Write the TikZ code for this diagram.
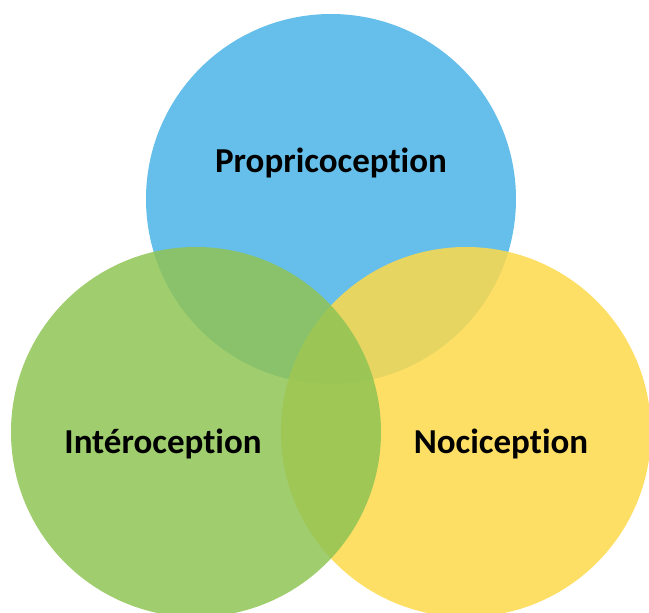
\documentclass[tikz,border=0pt]{standalone}
\usepackage{fontspec}
\setmainfont[Ligatures=NoCommon]{Carlito}
\definecolor{propblue}{RGB}{74,180,230}
\definecolor{intgreen}{RGB}{143,196,84}
\definecolor{nocyellow}{RGB}{254,217,75}
\tikzset{
  zone/.style={fill opacity=0.85},
  label/.style={inner sep=0pt,font=\fontsize{35}{41}\selectfont\bfseries}
}
\begin{document}
\begin{tikzpicture}[x=1pt,y=1pt]
\useasboundingbox (0,0) rectangle (649,-613);
\clip (0,0) rectangle (649,-613);
\fill[zone,propblue] (331,-199) circle (185);
\fill[zone,nocyellow] (466,-432) circle (185);
\fill[zone,intgreen] (196,-432) circle (185);
\node[label] (prop) at (331,-163) {Propricoception};
\node[label] (inte) at (163,-444) {Intéroception};
\node[label] (noci) at (501,-444) {Nociception};
\end{tikzpicture}
\end{document}
